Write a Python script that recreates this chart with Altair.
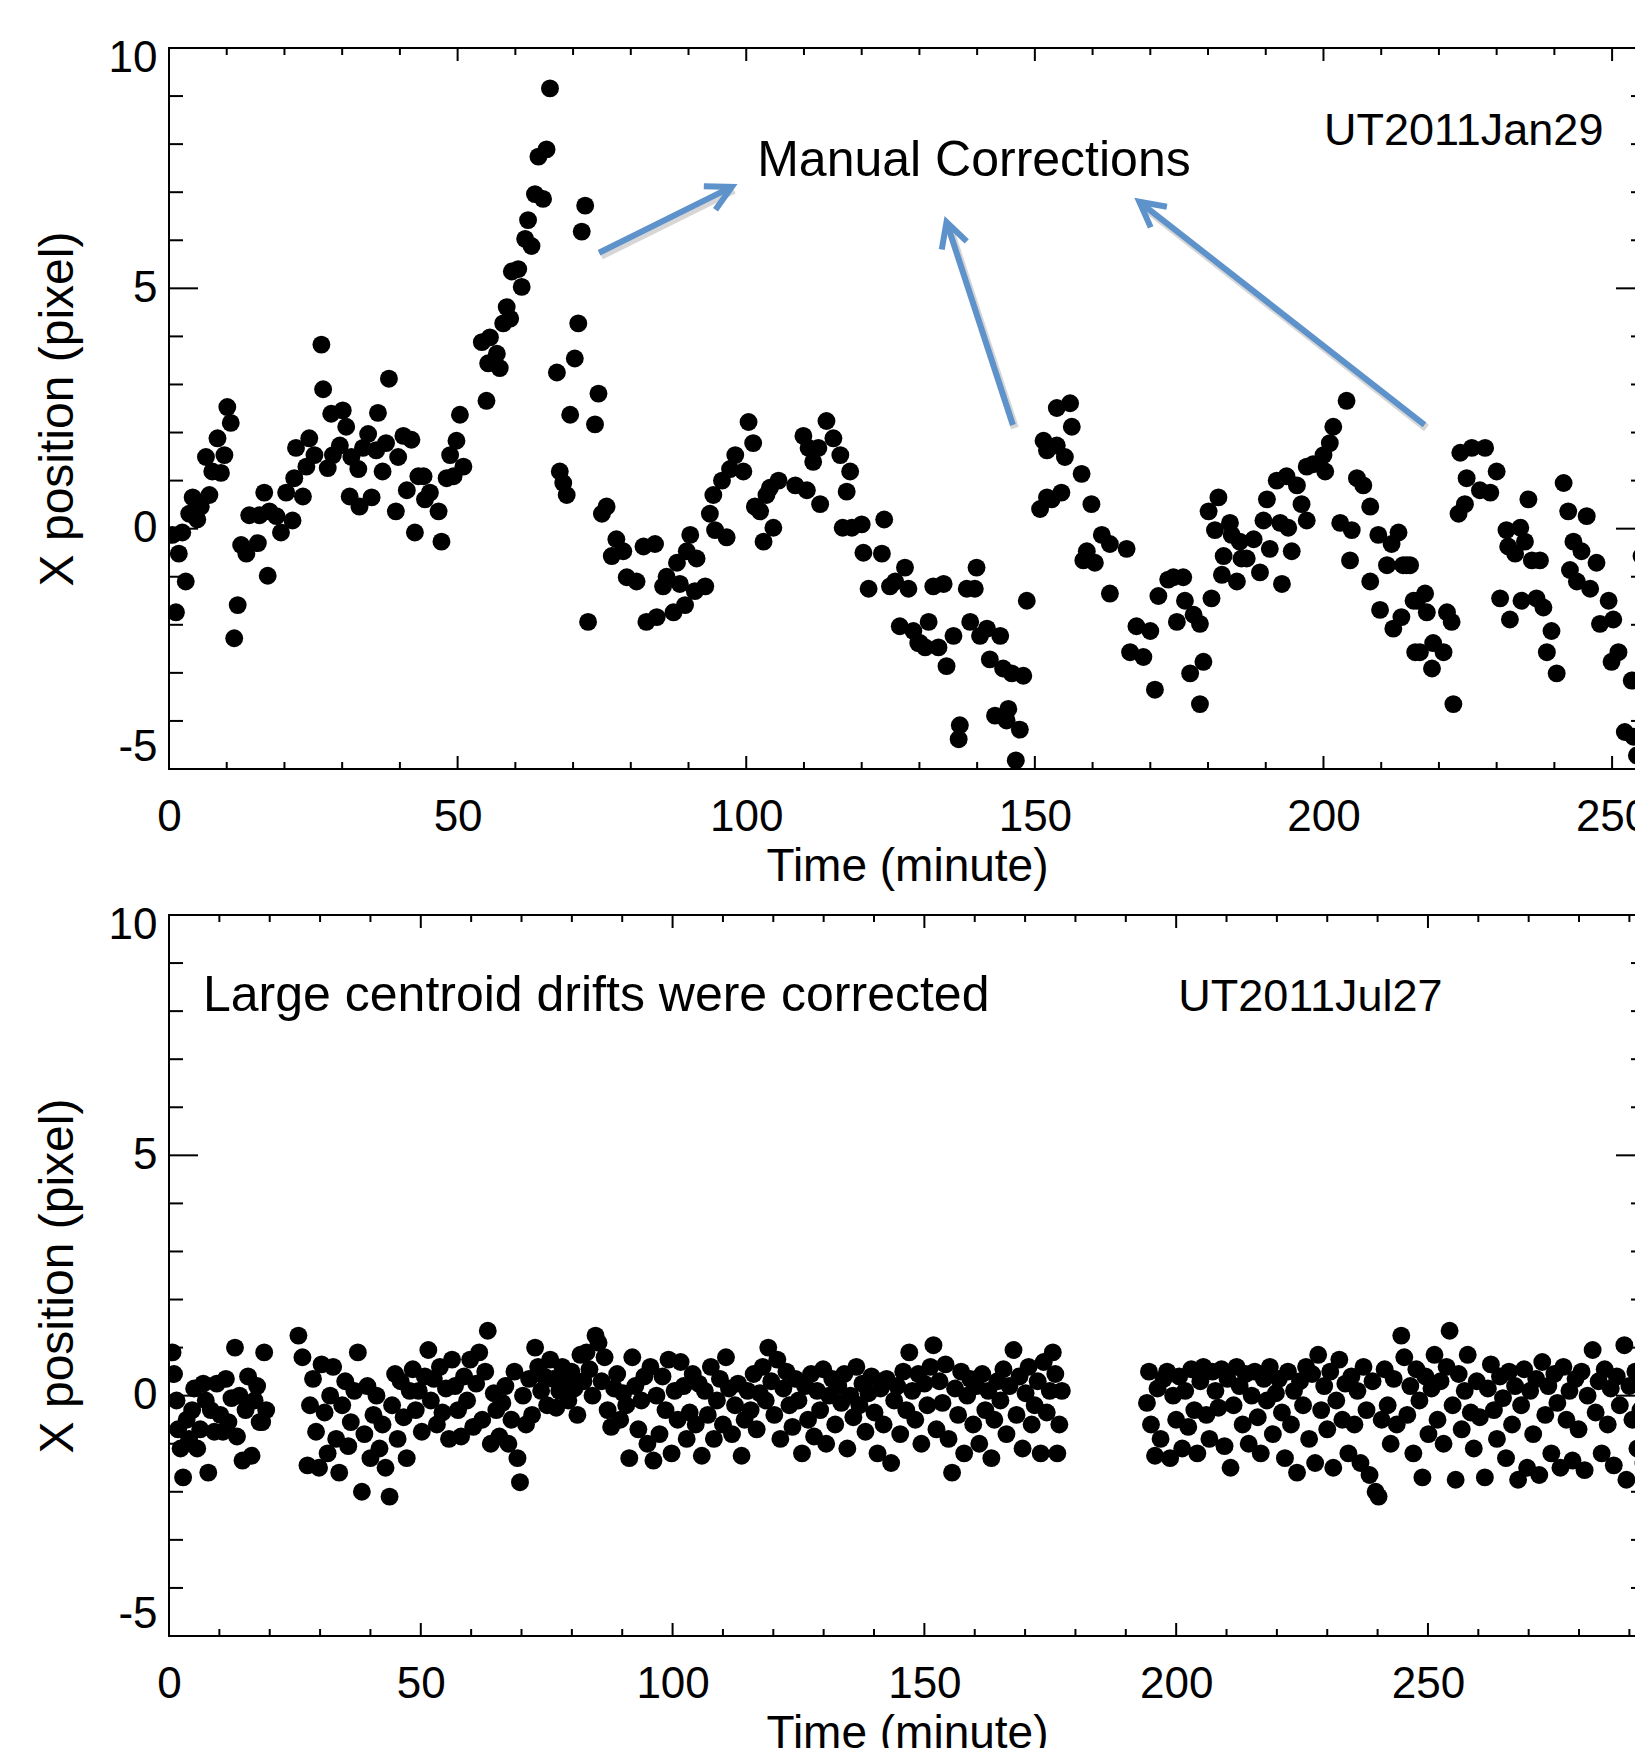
import math
import altair as alt
import pandas as pd

FONT = "Liberation Sans"
W, H = 1476, 721
TOP_XMAX = 255.7
BOT_XMAX = 293.1
Y_DOMAIN = [-5, 10]
BLUE = "#5E92CB"

# ---- data: (time in minutes, x position in pixel) ----
top_points = [
    (0.6, -0.13), (1.2, -1.74), (1.7, -0.52), (2.3, -0.08), (2.9, -1.1), (3.5, 0.31), (4.1, 0.65),
    (4.9, 0.19), (5.5, 0.46), (6.4, 1.49), (7.0, 0.70), (7.5, 1.19), (8.4, 1.88), (9.0, 1.16),
    (9.6, 1.53), (10.1, 2.53), (10.7, 2.2), (11.3, -2.28), (11.9, -1.59), (12.5, -0.34), (13.4, -0.52),
    (13.9, 0.28), (15.4, -0.3), (15.7, 0.28), (16.5, 0.75), (17.1, -0.98), (17.4, 0.36), (18.6, 0.26),
    (19.4, -0.08), (20.3, 0.75), (21.4, 0.17), (21.7, 1.05), (22.0, 1.68), (23.2, 0.67), (23.8, 1.29),
    (24.3, 1.88), (25.2, 1.53), (26.4, 3.83), (26.7, 2.9), (27.5, 1.26), (28.1, 2.39), (28.4, 1.53),
    (29.6, 1.73), (30.1, 2.46), (30.7, 2.12), (31.3, 0.67), (31.6, 1.49), (32.8, 1.24), (33.0, 0.46),
    (33.6, 1.68), (34.5, 1.97), (35.1, 0.65), (35.9, 1.63), (36.2, 2.41), (37.0, 1.19), (37.6, 1.78),
    (38.1, 3.12), (39.3, 0.36), (39.7, 1.49), (40.6, 1.93), (41.2, 0.80), (42.0, 1.85), (42.6, -0.08),
    (43.2, 1.09), (44.1, 1.09), (44.35, 0.61), (45.2, 0.75), (46.7, 0.36), (47.2, -0.27), (48.1, 1.05),
    (48.7, 1.53), (49.3, 1.09), (49.8, 1.83), (50.4, 2.37), (51.0, 1.29), (54.2, 3.88), (55.0, 2.66),
    (55.3, 3.44), (55.6, 3.98), (56.8, 3.64), (57.3, 3.34), (57.9, 4.27), (58.5, 4.61), (59.1, 4.37),
    (59.4, 5.35), (60.5, 5.40), (61.1, 5.03), (61.7, 6.03), (62.2, 6.42), (62.8, 5.88), (63.4, 6.96),
    (64.0, 7.74), (64.8, 6.86), (65.4, 7.89), (66.0, 9.16), (67.2, 3.25), (67.7, 1.19), (68.3, 0.95),
    (68.9, 0.70), (69.5, 2.37), (70.3, 3.54), (70.9, 4.27), (71.5, 6.18), (72.1, 6.72), (72.6, -1.94),
    (73.8, 2.17), (74.4, 2.81), (75.0, 0.31), (75.8, 0.46), (76.7, -0.57), (77.5, -0.22), (78.7, -0.47),
    (79.3, -1.01), (81.0, -1.1), (82.2, -0.37), (82.7, -1.94), (84.2, -0.32), (84.5, -1.84),
    (85.6, -1.2), (86.2, -1.0), (87.4, -1.74), (88.0, -0.71), (88.5, -1.15), (89.4, -1.59),
    (89.7, -0.47), (90.3, -0.13), (91.1, -1.3), (91.4, -0.62), (92.9, -1.2), (93.7, 0.31), (94.3, 0.70),
    (94.6, -0.03), (95.8, 1.0), (96.6, -0.18), (97.2, 1.24), (98.1, 1.53), (99.5, 1.19), (100.4, 2.22),
    (101.2, 1.78), (101.5, 0.46), (102.4, 0.36), (103.0, -0.27), (103.5, 0.70), (104.1, 0.85),
    (104.7, 0.02), (105.6, 1.0), (108.5, 0.90), (109.9, 1.93), (110.5, 0.80), (110.8, 1.68),
    (111.6, 1.39), (112.5, 1.68), (112.8, 0.51), (113.9, 2.24), (115.1, 1.88), (116.3, 1.53),
    (116.7, 0.02), (117.4, 0.77), (118.0, 1.19), (118.3, 0.02), (120.0, 0.09), (120.3, -0.5),
    (121.2, -1.25), (123.5, -0.52), (123.9, 0.19), (124.9, -1.2), (125.8, -1.1), (126.6, -2.03),
    (127.5, -0.81), (128.1, -1.25), (128.95, -2.13), (129.8, -2.38), (130.1, -2.38), (131.0, -2.47),
    (131.6, -1.94), (132.4, -1.2), (133.3, -2.47), (134.2, -1.15), (134.7, -2.86), (135.9, -2.23),
    (136.8, -4.38), (137.0, -4.09), (138.2, -1.25), (138.8, -1.94), (139.6, -1.25), (139.9, -0.81),
    (140.5, -2.23), (141.7, -2.08), (142.2, -2.72), (143.1, -3.89), (144.0, -2.23), (144.5, -2.91),
    (145.1, -3.99), (145.4, -3.75), (146.0, -3.01), (146.7, -4.82), (147.4, -4.18), (148.0, -3.06),
    (148.6, -1.5), (150.9, 0.41), (151.5, 1.83), (152.1, 0.65), (152.1, 1.63), (152.9, 0.61),
    (153.8, 2.51), (153.8, 1.73), (154.6, 0.75), (155.2, 1.49), (156.1, 2.61), (156.4, 2.12),
    (158.1, 1.14), (158.4, -0.66), (159.0, -0.47), (159.8, 0.51), (160.4, -0.71), (161.6, -0.13),
    (163.0, -0.32), (163.0, -1.35), (165.9, -0.42), (166.5, -2.57), (167.6, -2.03), (168.8, -2.67),
    (170.0, -2.13), (170.8, -3.35), (171.4, -1.40), (173.1, -1.06), (174.0, -1.01), (174.6, -1.94),
    (175.7, -1.01), (176.0, -1.5), (176.9, -3.01), (177.5, -1.79), (178.6, -1.98), (178.6, -3.65),
    (179.2, -2.77), (180.1, 0.36), (180.6, -1.45), (181.2, -0.03), (181.8, 0.65), (182.4, -0.96),
    (182.7, -0.57), (183.8, 0.12), (184.1, -0.13), (185.0, -1.1), (185.5, -0.27), (185.8, -0.62),
    (186.7, -0.62), (187.9, -0.22), (189.0, -0.91), (189.6, 0.17), (190.2, 0.61), (190.7, -0.42),
    (191.9, 1.0), (192.5, 0.12), (192.8, -1.15), (193.6, 1.09), (193.9, 0.02), (194.5, -0.47),
    (195.4, 0.90), (196.2, 0.51), (197.1, 0.17), (197.1, 1.29), (198.2, 1.34), (200.0, 1.53),
    (200.3, 1.19), (201.1, 1.78), (201.7, 2.12), (202.9, 0.12), (204.0, 2.66), (204.6, -0.66),
    (204.9, -0.03), (205.8, 1.05), (206.9, 0.90), (208.1, 0.46), (208.1, -1.1), (209.5, -0.13),
    (209.8, -1.69), (211.0, -0.76), (211.8, -0.32), (212.1, -2.08), (213.0, -0.08), (213.5, -1.84),
    (213.8, -0.76), (214.4, -0.76), (215.0, -0.76), (215.6, -1.5), (215.9, -2.57), (216.2, -1.5),
    (216.7, -2.57), (217.6, -1.35), (217.9, -1.74), (218.8, -2.91), (219.0, -2.38), (220.8, -2.57),
    (221.4, -1.74), (222.2, -1.94), (222.5, -3.65), (223.4, 0.31), (223.7, 1.58), (224.5, 0.51),
    (224.8, 1.05), (225.7, 1.68), (227.1, 0.80), (228.0, 1.68), (228.9, 0.75), (230.0, 1.19),
    (230.6, -1.45), (231.7, -0.03), (232.0, -0.37), (232.3, -1.89), (233.2, -0.52), (234.1, 0.02),
    (234.3, -1.5), (234.9, -0.27), (235.5, 0.61), (236.1, -0.66), (236.9, -1.45), (237.5, -0.66),
    (238.1, -1.64), (238.7, -2.57), (239.5, -2.13), (240.4, -3.01), (241.6, 0.95), (242.4, 0.36),
    (242.7, -0.86), (243.3, -0.27), (243.9, -1.1), (244.7, -0.47), (245.6, 0.26), (246.2, -1.25),
    (247.3, -0.71), (247.9, -1.98), (249.4, -1.5), (249.9, -2.77), (250.2, -1.89), (251.1, -2.57),
    (252.2, -4.23), (253.4, -3.16), (253.7, -4.33), (254.3, -4.72), (255.1, -0.57), (255.6, -4.9),
]

bottom_points = [
    (0.7, 0.9), (1.0, 0.45), (1.5, -0.1), (1.8, -0.7), (2.3, -1.1), (2.8, -1.7), (3.5, -0.5), (4.0, -0.9),
    (4.6, -0.3), (5.0, 0.15), (5.6, -1.1), (6.2, -0.7), (6.8, 0.25), (7.3, -0.1), (7.8, -1.6), (8.3, -0.3),
    (9.0, -0.75), (9.5, 0.25), (10.2, -0.4), (10.7, -0.75), (11.3, 0.35), (11.8, -0.55), (12.4, -0.05),
    (13.1, 1.0), (13.5, -0.85), (14.0, 0.0), (14.6, -1.35), (15.2, -0.3), (15.7, 0.4), (16.4, -1.25),
    (17.0, -0.1), (17.5, 0.2), (18.0, -0.55), (18.5, -0.55), (18.9, 0.9), (19.3, -0.3),
    (25.7, 1.25), (26.5, 0.8), (27.5, -1.45), (28.0, -0.2), (28.6, 0.35), (29.2, -0.75), (29.8, -1.5),
    (30.3, 0.65), (30.9, -0.35), (31.5, -1.2), (32.0, 0.0), (32.6, 0.6), (33.2, -0.9), (33.8, -1.6),
    (34.4, -0.2), (35.0, 0.3), (35.6, -1.05), (36.1, -0.55), (36.8, 0.1), (37.5, 0.9), (38.3, -2.0),
    (38.8, -0.8), (39.4, 0.2), (40.0, -1.3), (40.6, -0.4), (41.2, 0.0), (41.8, -1.1), (42.4, -0.6),
    (43.0, -1.5), (43.8, -2.1), (44.3, -0.2), (44.9, 0.45), (45.4, -0.9), (46.0, 0.3), (46.6, -0.45),
    (47.2, -1.3), (47.8, 0.1), (48.4, 0.55), (49.0, -0.3), (49.6, 0.1), (50.2, -0.75), (50.8, 0.4),
    (51.5, 0.95), (52.0, -0.1), (52.6, 0.35), (53.2, -0.6), (53.8, 0.6), (54.3, -0.35), (55.0, 0.15),
    (55.6, -0.9), (56.2, 0.75), (56.8, 0.2), (57.4, -0.3), (58.0, -0.85), (58.6, 0.4), (59.2, -0.1),
    (59.8, 0.75), (60.4, -0.65), (61.0, 0.25), (61.6, 0.9), (62.2, -0.5), (62.8, 0.5), (63.3, 1.35),
    (63.9, -1.0), (64.5, 0.05), (65.0, -0.3), (65.6, -0.85), (66.2, -0.15), (66.8, 0.2), (67.4, -1.0),
    (68.0, -0.5), (68.6, 0.5), (69.2, -1.3), (69.7, -1.8), (70.3, 0.0), (70.9, -0.6), (71.5, 0.35),
    (72.1, -0.4), (72.7, 1.0), (73.3, 0.6), (73.9, 0.1), (74.5, 0.4), (75.1, -0.2), (75.7, 0.75),
    (76.3, 0.35), (76.9, -0.25), (77.5, 0.1), (78.1, 0.6), (78.7, 0.35), (79.3, -0.1), (79.9, 0.5),
    (80.5, 0.15), (81.1, -0.4), (81.7, 0.85), (82.3, 0.3), (82.9, 0.9), (83.5, 0.55), (84.1, 0.0),
    (84.7, 1.25), (85.3, 1.1), (85.9, 0.3), (86.5, 0.8), (87.1, -0.3), (87.8, -0.65), (88.4, 0.15),
    (89.0, 0.45), (89.6, -0.5), (90.2, 0.05), (90.8, -0.2), (91.4, -1.3), (92.0, 0.8), (92.6, 0.2),
    (93.2, -0.7), (93.8, -0.1), (94.4, 0.4), (95.0, -1.0), (95.6, 0.6), (96.2, -1.35), (96.8, 0.0),
    (97.4, -0.8), (98.0, 0.4), (98.6, -0.3), (99.2, 0.75), (99.8, -1.2), (100.4, 0.1), (101.0, -0.5),
    (101.6, 0.7), (102.2, 0.2), (102.8, -0.9), (103.4, -0.35), (104.0, 0.45), (104.6, -0.6),
    (105.2, 0.25), (105.8, -1.25), (106.4, 0.1), (107.0, -0.4), (107.6, 0.6), (108.2, -0.9),
    (108.8, -0.1), (109.4, 0.35), (110.0, -0.6), (110.6, 0.8), (111.2, 0.15), (111.8, -0.8),
    (112.4, -0.2), (113.0, 0.25), (113.7, -1.25), (114.3, -0.5), (114.9, 0.1), (115.5, -0.3),
    (116.1, 0.45), (116.7, -0.7), (117.3, 0.05), (117.9, 0.6), (118.5, -0.1), (119.0, 1.0),
    (119.6, 0.3), (120.2, -0.4), (120.8, 0.75), (121.4, -0.9), (122.0, 0.15), (122.6, 0.5),
    (123.2, -0.2), (123.8, -0.65), (124.4, 0.35), (125.0, -0.1), (125.7, -1.2), (126.3, 0.2),
    (126.9, -0.5), (127.5, 0.45), (128.1, -0.85), (128.7, 0.1), (129.3, -0.3), (129.9, 0.55),
    (130.5, -1.0), (131.1, 0.0), (131.7, 0.35), (132.3, -0.6), (132.9, 0.2), (133.5, -0.15),
    (134.1, 0.45), (134.7, -1.1), (135.3, 0.0), (135.9, -0.45), (136.5, 0.6), (137.1, -0.2),
    (137.7, 0.25), (138.3, -0.75), (138.9, 0.05), (139.5, 0.4), (140.1, -0.35), (140.7, -1.2),
    (141.3, 0.15), (141.9, -0.6), (142.5, 0.35), (143.4, -1.4), (144.0, -0.1), (144.6, 0.2),
    (145.2, -0.8), (145.8, 0.5), (146.4, -0.3), (147.0, 0.9), (147.6, 0.1), (148.2, -0.5),
    (148.8, 0.45), (149.4, -1.0), (150.0, 0.25), (150.6, -0.2), (151.2, 0.6), (151.8, 1.05),
    (152.4, -0.7), (153.0, 0.3), (153.6, -0.15), (154.2, 0.65), (154.8, -0.9), (155.5, -1.6),
    (156.1, 0.15), (156.7, -0.4), (157.3, 0.5), (157.9, -1.2), (158.5, 0.0), (159.1, 0.35),
    (159.7, -0.6), (160.3, 0.2), (160.9, -1.0), (161.5, 0.45), (162.1, -0.3), (162.7, 0.1),
    (163.3, -1.3), (163.9, -0.5), (164.5, 0.3), (165.1, -0.1), (165.7, 0.55), (166.3, -0.8),
    (166.9, 0.2), (167.7, 0.95), (168.3, -0.4), (168.9, 0.4), (169.5, -1.1), (170.1, 0.05),
    (170.7, 0.6), (171.3, -0.6), (171.9, -0.2), (172.5, 0.3), (173.1, -1.2), (173.7, 0.7),
    (174.3, -0.35), (174.9, 0.1), (175.5, 0.9), (176.0, 0.45), (176.4, -1.2), (176.8, -0.6), (177.3, 0.1),
    (194.2, -0.15), (194.6, 0.5), (195.0, -0.6), (195.8, -1.25), (196.3, 0.15), (196.9, -0.9),
    (197.5, 0.35), (198.2, 0.5), (198.8, -1.3), (199.4, 0.0), (200.0, -0.5), (200.6, 0.4),
    (201.2, -1.1), (201.8, 0.1), (202.4, -0.65), (203.0, 0.55), (203.6, -0.3), (204.2, -1.2),
    (204.8, 0.3), (205.4, 0.6), (206.0, -0.4), (206.6, -0.9), (207.2, 0.5), (207.8, 0.1),
    (208.4, -0.25), (209.0, 0.55), (209.6, -1.05), (210.2, 0.35), (210.8, -1.5), (211.4, -0.2),
    (212.0, 0.6), (212.6, 0.2), (213.2, -0.6), (213.8, 0.45), (214.4, -1.0), (215.0, 0.0),
    (215.6, 0.5), (216.2, -0.45), (216.8, -1.2), (217.4, 0.35), (218.0, -0.1), (218.6, 0.6),
    (219.2, -0.8), (219.8, 0.05), (220.4, 0.35), (221.0, -0.35), (221.6, -1.3), (222.2, 0.5),
    (222.8, -0.6), (223.4, 0.1), (224.0, -1.6), (224.6, 0.3), (225.2, -0.2), (225.8, 0.6),
    (226.4, -0.9), (227.0, 0.45), (227.6, -1.4), (228.2, 0.85), (228.8, -0.3), (229.4, 0.2),
    (230.0, -0.7), (230.6, 0.5), (231.2, -1.5), (231.8, -0.1), (232.4, 0.75), (233.0, -0.5),
    (233.6, 0.25), (234.2, -1.2), (234.8, 0.4), (235.4, -0.6), (236.0, 0.1), (236.6, -1.4),
    (237.2, 0.6), (237.8, -0.3), (238.4, -1.65), (239.0, 0.3), (239.6, -2.0), (240.2, -2.1),
    (240.8, -0.5), (241.4, 0.55), (242.0, -0.2), (242.6, -1.0), (243.2, 0.35), (243.8, -0.6),
    (244.7, 1.25), (245.3, 0.8), (245.9, -0.4), (246.5, 0.2), (247.1, -1.2), (247.7, 0.55),
    (248.3, -0.1), (248.9, -1.7), (249.5, 0.4), (250.1, -0.8), (250.7, 0.15), (251.3, 0.85),
    (251.9, -0.5), (252.5, 0.3), (253.1, -1.0), (253.7, 0.6), (254.3, 1.35), (254.9, -0.2),
    (255.5, -1.75), (256.1, 0.45), (256.7, -0.7), (257.3, 0.1), (257.9, 0.85), (258.5, -0.35),
    (259.1, -1.1), (259.7, 0.3), (260.3, -0.45), (261.3, -1.7), (261.9, 0.15), (262.5, 0.65),
    (263.1, -0.3), (263.7, -0.9), (264.3, 0.4), (264.9, -0.05), (265.5, -1.3), (266.1, 0.5),
    (266.7, -0.6), (267.3, 0.2), (267.9, -1.75), (268.5, -0.2), (269.1, 0.55), (269.7, -1.5),
    (270.3, 0.1), (270.9, -0.8), (271.5, 0.35), (272.1, -1.65), (272.7, 0.7), (273.3, -0.4),
    (273.9, 0.2), (274.5, -1.2), (275.1, 0.45), (275.7, -0.15), (276.3, -1.5), (276.9, 0.6),
    (277.5, -0.5), (278.1, 0.1), (278.7, -1.35), (279.3, 0.35), (279.9, -0.7), (280.5, 0.5),
    (281.1, -1.55), (281.7, 0.0), (282.7, 0.95), (283.3, -0.35), (283.9, 0.3), (284.5, -1.2),
    (285.1, 0.55), (285.7, -0.6), (286.3, 0.15), (286.9, -1.45), (287.5, 0.4), (288.1, -0.2),
    (289.0, 1.05), (289.4, -1.75), (290.0, 0.2), (290.6, -0.5), (291.2, 0.5), (291.6, -1.1),
    (292.2, -0.3), (292.8, -1.4),
]

x_label_values = [0, 50, 100, 150, 200, 250]
y_label_values = [-5, 0, 5, 10]

top_big_text = [("Manual Corrections", 101.9, 7.34)]
top_date_text = [("UT2011Jan29", 200.1, 7.98)]
bottom_big_text = [("Large centroid drifts were corrected", 6.75, 8.0)]
bottom_date_text = [("UT2011Jul27", 200.4, 8.0)]

# arrows: tail (t0, v0) -> head (t1, v1)
arrows = [
    (74.5, 5.74, 97.5, 7.11),
    (146.2, 2.157, 134.7, 6.38),
    (217.5, 2.157, 168.1, 6.80),
]

CHEVRON = "M -0.883 -0.469 L 0 0 L -0.883 0.469"


def panel(points, xmax, big_text, date_text, arrow_list=None):
    xs = alt.Scale(domain=[0, xmax], nice=False, zero=False)
    ys = alt.Scale(domain=Y_DOMAIN, nice=False, zero=False)
    df = pd.DataFrame(points, columns=["t", "v"])

    x_axis = alt.Axis(values=x_label_values, title="Time (minute)", labelPadding=26,
                      titlePadding=5, labelFlush=False, labelOverlap=False,
                      labelFont=FONT, labelFontSize=44, titleFont=FONT, titleFontSize=46,
                      labelExpr="'' + datum.value")
    y_axis = alt.Axis(values=y_label_values, title="X position (pixel)", labelPadding=12,
                      titlePadding=26, labelFlush=True, labelOverlap=False,
                      labelFont=FONT, labelFontSize=44, titleFont=FONT, titleFontSize=48,
                      labelOffset={"condition": {"test": "datum.value == 10", "value": -12}, "value": 0},
                      labelExpr="'' + datum.value")

    def X(field):
        return alt.X(field, scale=xs, axis=x_axis, title="Time (minute)")

    def Y(field):
        return alt.Y(field, scale=ys, axis=y_axis, title="X position (pixel)")

    layers = []
    layers.append(
        alt.Chart(df).mark_circle(size=320, color="black", opacity=1, clip=True).encode(
            x=X("t:Q"), y=Y("v:Q"),
        )
    )

    # inward tick marks on all four sides
    xt = list(range(0, int(xmax) + 1, 10))
    xmaj = pd.DataFrame({"t": [v for v in xt if v % 50 == 0]})
    xmin = pd.DataFrame({"t": [v for v in xt if v % 50 != 0]})
    yt = list(range(-5, 11))
    ymaj = pd.DataFrame({"v": [v for v in yt if v % 5 == 0]})
    ymin = pd.DataFrame({"v": [v for v in yt if v % 5 != 0]})
    rule = dict(color="black", strokeWidth=2)
    for d, ln in ((xmaj, 13), (xmin, 7)):
        layers.append(alt.Chart(d).mark_rule(**rule).encode(x=X("t:Q"), y=alt.value(H), y2=alt.value(H - ln)))
        layers.append(alt.Chart(d).mark_rule(**rule).encode(x=X("t:Q"), y=alt.value(0), y2=alt.value(ln)))
    for d, ln in ((ymaj, 29), (ymin, 14)):
        layers.append(alt.Chart(d).mark_rule(**rule).encode(y=Y("v:Q"), x=alt.value(0), x2=alt.value(ln)))
        layers.append(alt.Chart(d).mark_rule(**rule).encode(y=Y("v:Q"), x=alt.value(W), x2=alt.value(W - ln)))

    for rows, size in ((big_text, 50), (date_text, 45)):
        tdf = pd.DataFrame(rows, columns=["label", "t", "v"])
        layers.append(
            alt.Chart(tdf).mark_text(align="left", baseline="alphabetic", font=FONT,
                                     fontSize=size, color="black").encode(
                x=X("t:Q"), y=Y("v:Q"), text="label:N",
            )
        )

    if arrow_list:
        adf = pd.DataFrame(arrow_list, columns=["t", "v", "t1", "v1"])
        adf["ang"] = [
            math.degrees(math.atan2(-(r.v1 - r.v) * H / 15.0, (r.t1 - r.t) * W / xmax)) % 360
            for r in adf.itertuples()
        ]
        enc = dict(x=X("t:Q"), y=Y("v:Q"), x2="t1:Q", y2="v1:Q")
        layers.append(
            alt.Chart(adf).mark_rule(color="#8a8a8a", opacity=0.35, strokeWidth=8,
                                     xOffset=2, x2Offset=2, yOffset=3, y2Offset=3).encode(**enc)
        )
        layers.append(alt.Chart(adf).mark_rule(color=BLUE, strokeWidth=6).encode(**enc))
        hdf = adf[["t1", "v1", "ang"]].rename(columns={"t1": "t", "v1": "v"})
        layers.append(
            alt.Chart(hdf).mark_point(shape=CHEVRON, size=3136, filled=False, strokeWidth=6,
                                      color=BLUE, opacity=1, strokeJoin="miter").encode(
                x=X("t:Q"), y=Y("v:Q"),
                angle=alt.Angle("ang:Q", scale=None),
            )
        )

    return alt.layer(*layers).properties(width=W, height=H)


top = panel(top_points, TOP_XMAX, top_big_text, top_date_text, arrows)
bottom = panel(bottom_points, BOT_XMAX, bottom_big_text, bottom_date_text)

chart = (
    alt.vconcat(top, bottom, spacing=12)
    .properties(padding={"left": 25, "top": 27, "right": -15, "bottom": 0})
    .configure_view(stroke="black", strokeWidth=2)
    .configure_axis(labelColor="black", titleColor="black", titleFontWeight="normal",
                    tickSize=0, domain=False, grid=False)
)

chart.save("out.html", embed_options={"renderer": "svg", "actions": False})
